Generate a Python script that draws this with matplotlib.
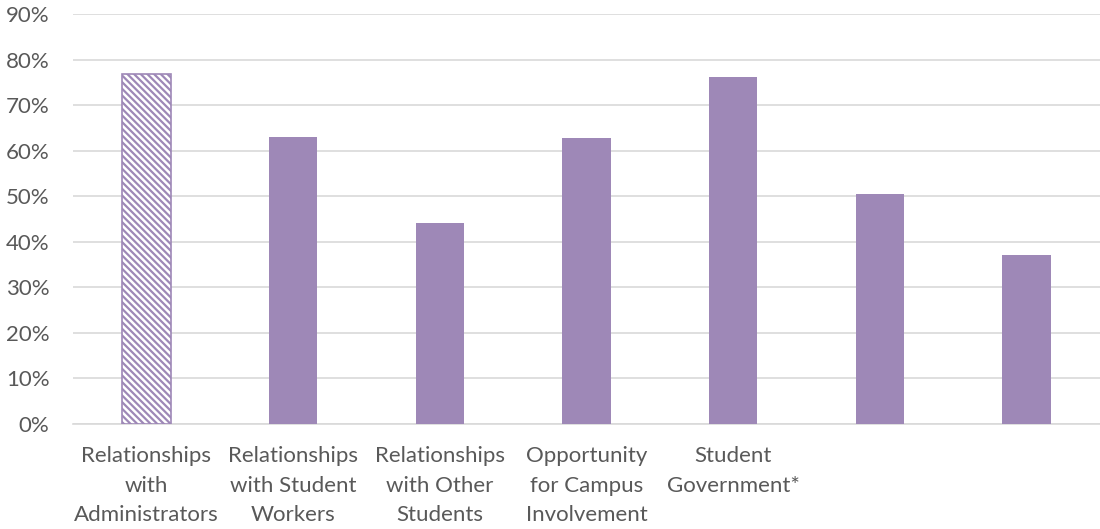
import numpy as np
import matplotlib
matplotlib.use("Agg")
import matplotlib.pyplot as plt
from matplotlib.ticker import PercentFormatter

categories = ["Relationships\nwith\nAdministrators", "Relationships\nwith Student\nWorkers",
              "Relationships\nwith Other\nStudents", "Opportunity\nfor Campus\nInvolvement",
              "Student\nGovernment*", "", ""]
values = [76.8, 62.9, 44.1, 62.8, 76.1, 50.5, 37.1]
hatched = [True, False, False, False, False, False, False]

purple = "#9E88B7"
grey = "#595959"

plt.rcParams["font.family"] = ["Lato", "DejaVu Sans"]
plt.rcParams["hatch.linewidth"] = 1.6
plt.rcParams["hatch.color"] = purple

fig = plt.figure(figsize=(11, 5.29), dpi=100)
ax = fig.add_axes([73 / 1100, 105 / 529, 1027 / 1100, 410 / 529])

x = np.arange(len(values))
for xi, v, h in zip(x, values, hatched):
    if h:
        ax.bar(xi, v, width=0.33, facecolor="white", edgecolor=purple,
               hatch="\\\\\\\\\\", linewidth=1.2, zorder=3)
    else:
        ax.bar(xi, v, width=0.33, color=purple, zorder=3)

ax.set_ylim(0, 90)
ax.set_xlim(-0.5, len(values) - 0.5)
ax.set_yticks(np.arange(0, 91, 10))
ax.yaxis.set_major_formatter(PercentFormatter(decimals=0))
ax.grid(axis="y", color="#D9D9D9", linewidth=1.2, zorder=0)
ax.set_xticks(x)
ax.set_xticklabels(categories, fontsize=16, color=grey, linespacing=1.58)
ax.tick_params(axis="y", labelsize=16, labelcolor=grey, length=0, pad=17)
ax.tick_params(axis="x", length=0, pad=16)
for s in ["top", "right", "left"]:
    ax.spines[s].set_visible(False)
ax.spines["bottom"].set_color("#D9D9D9")
ax.spines["bottom"].set_linewidth(1.2)

fig.savefig("out.png", dpi=100)
